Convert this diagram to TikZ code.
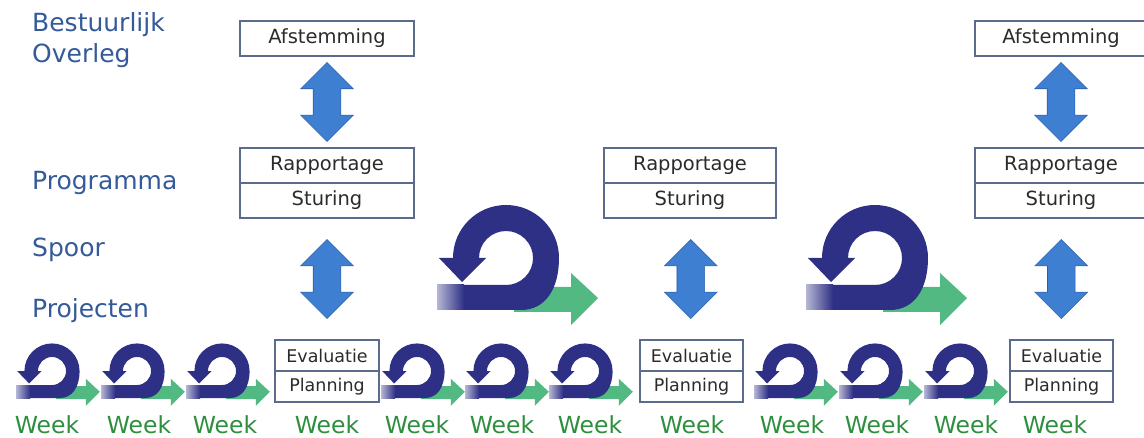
\documentclass[tikz,border=0pt]{standalone}
\usepackage{fontspec}
\setmainfont{DejaVu Sans}
\usetikzlibrary{shapes.arrows}
\definecolor{lblblue}{HTML}{345A9A}
\definecolor{loopnavy}{HTML}{2E3085}
\definecolor{arrgreen}{HTML}{52B982}
\definecolor{weekgreen}{HTML}{2E8F3E}
\definecolor{boxline}{HTML}{5B6B8C}
\definecolor{boxtext}{HTML}{2B2B2B}
\definecolor{arrowfill}{HTML}{3F7FD2}
\definecolor{arrowedge}{HTML}{2B5FAE}
\tikzset{
  lbl/.style={anchor=base west, inner sep=0pt, text=lblblue, font=\fontsize{25}{28}\selectfont},
  week/.style={anchor=base, inner sep=0pt, text=weekgreen, font=\fontsize{23.5}{26}\selectfont},
  bigbox/.style={draw=boxline, line width=1.3pt, minimum width=174pt, minimum height=35pt, inner sep=0pt, text=boxtext, font=\fontsize{19.5}{22}\selectfont},
  smallbox/.style={draw=boxline, line width=1.3pt, minimum width=104pt, minimum height=31pt, inner sep=0pt, text=boxtext, font=\fontsize{17.5}{19}\selectfont},
  darrow/.style={double arrow, draw=arrowedge, fill=arrowfill, line width=0.6pt, minimum height=79pt, minimum width=52pt, inner xsep=0pt, inner ysep=13.5pt, double arrow head extend=12.5pt, double arrow tip angle=90, rotate=90},
  loopic/.pic={
    \fill[arrgreen] (8,-29) -- (65,-29) -- (65,-15) -- (92,-40) -- (65,-67) -- (65,-54) -- (8,-54) -- cycle;
    \fill[loopnavy] (-69,-52) -- (15,-52) .. controls (40,-52) and (53,-30) .. (53,0)
      arc[start angle=0, end angle=180, radius=53pt] -- (-67,0) -- (-44,-24) -- (-20,0) -- (-27,0)
      arc[start angle=180, end angle=-90, radius=27pt] -- (-69,-27) -- cycle;
    \shade[left color=loopnavy!35, right color=loopnavy] (-69,-52) rectangle (-42,-27);
  }
}
\begin{document}
\begin{tikzpicture}[x=1pt, y=1pt]
\useasboundingbox (0,0) rectangle (1144,437);
\fill[white] (0,0) rectangle (1144,437);

% left labels
\node[lbl] (lbest) at (32,405) {Bestuurlijk};
\node[lbl] (lover) at (32,374) {Overleg};
\node[lbl] (lprog) at (32,247) {Programma};
\node[lbl] (lspoor) at (32,180) {Spoor};
\node[lbl] (lproj) at (32,119) {Projecten};

% boxes column 1
\node[bigbox] (afst1) at (327,398.5) {Afstemming};
\node[bigbox] (rap1) at (327,271.5) {Rapportage};
\node[bigbox] (stu1) at (327,236.5) {Sturing};
\node[smallbox] (eva1) at (327,81.5) {Evaluatie};
\node[smallbox] (pla1) at (327,50.5) {Planning};
% column 2
\node[bigbox, minimum width=172pt] (rap2) at (690,271.5) {Rapportage};
\node[bigbox, minimum width=172pt] (stu2) at (690,236.5) {Sturing};
\node[smallbox, minimum width=103pt] (eva2) at (691.5,81.5) {Evaluatie};
\node[smallbox, minimum width=103pt] (pla2) at (691.5,50.5) {Planning};
% column 3
\node[bigbox, minimum width=172pt] (afst3) at (1061,398.5) {Afstemming};
\node[bigbox, minimum width=172pt] (rap3) at (1061,271.5) {Rapportage};
\node[bigbox, minimum width=172pt] (stu3) at (1061,236.5) {Sturing};
\node[smallbox, minimum width=103pt] (eva3) at (1061.5,81.5) {Evaluatie};
\node[smallbox, minimum width=103pt] (pla3) at (1061.5,50.5) {Planning};

% double arrows
\path (afst1.south) -- (rap1.north) node[midway, darrow] (da1) {};
\path (stu1.south) -- (eva1.north) node[midway, darrow] (db1) {};
\path (stu2.south) -- (eva2.north) node[midway, darrow] (db2) {};
\path (afst3.south) -- (rap3.north) node[midway, darrow] (da3) {};
\path (stu3.south) -- (eva3.north) node[midway, darrow] (db3) {};

% big loops
\pic at (506,179) {loopic};
\pic at (875,179) {loopic};

% small loops
\foreach \cx in {52,137,222,417,501,585,790,875,960}
  \pic[scale=0.52] at (\cx,66) {loopic};

% week labels
\foreach \wx [count=\i] in {47,139,225,327,417,502,590,692,792,877,966,1055}
  \node[week] (w\i) at (\wx,4) {Week};
\end{tikzpicture}
\end{document}
